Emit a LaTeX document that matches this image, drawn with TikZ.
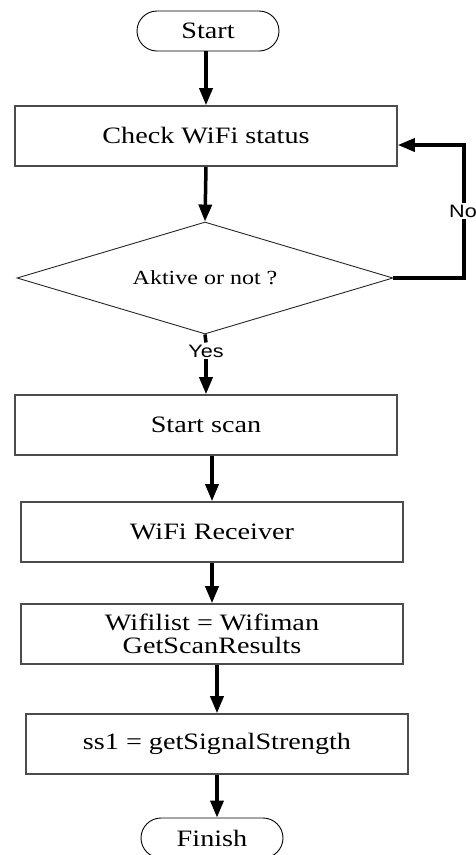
\documentclass[tikz,border=0pt]{standalone}
\usepackage{fontspec}
\setmainfont[FakeStretch=1.2]{Liberation Serif}
\newfontfamily\labelfont[FakeStretch=1.2]{Liberation Sans}
\usetikzlibrary{shapes.geometric,arrows.meta}

\tikzset{
  terminal/.style={draw=black, line width=0.9pt, rounded corners=20pt,
    minimum width=142pt, minimum height=40pt, inner sep=0pt,
    font=\fontsize{23.5}{23}\selectfont},
  process/.style={draw=black!70, line width=1.6pt, minimum width=382pt,
    minimum height=60pt, inner sep=0pt, align=center,
    font=\fontsize{23.5}{23}\selectfont},
  decision/.style={draw=black!85, line width=0.9pt, diamond, shape aspect=3.36,
    minimum width=376pt, minimum height=112pt, inner sep=0pt,
    font=\fontsize{20}{21}\selectfont},
  flow/.style={line width=3.5pt, -{Triangle[width=13pt,length=17pt]}},
  plainflow/.style={line width=3.5pt},
  branch/.style={font=\labelfont\fontsize{18}{18}\selectfont, inner sep=2pt, fill=white}
}

\begin{document}
\begin{tikzpicture}[x=1pt, y=-1pt]
  \useasboundingbox (0,0) rectangle (475,855);

  % flowchart steps
  \node[terminal] (start)  at (208,31)  {Start};
  \node[process]  (check)  at (206,136) {Check WiFi status};
  \node[decision] (active) at (205,278) {Aktive or not ?};
  \node[branch]   (yes)    at (206,351) {Yes};
  \node[process]  (scan)   at (206,425) {Start scan};
  \node[process]  (recv)   at (212,532) {WiFi Receiver};
  \node[process]  (list)   at (212,634) {Wifilist = Wifiman\\GetScanResults};
  \node[process]  (signal) at (217,744) {ss1 = getSignalStrength};
  \node[terminal] (finish) at (212,838) {Finish};

  % return path for an inactive adapter
  \coordinate (loopbot) at (464,278);
  \coordinate (looptop) at (464,145);

  % connectors
  \draw[flow] (start.south -| check.north) -- (check.north);
  \draw[flow] (check.south) -- (active.north);
  \draw[plainflow] (active.south) -- (yes.north);
  \draw[flow] (yes.south) -- (scan.north);
  \draw[flow] (scan.south -| recv.north) -- (recv.north);
  \draw[flow] (recv.south) -- (list.north);
  \draw[flow] (list.south -| signal.north) -- (signal.north);
  \draw[flow] (signal.south) -- (signal.south |- finish.north);
  \draw[flow] (active.east) -- (loopbot) -- (looptop) -- (looptop -| check.east);

  \node[branch] (no) at (463,211) {No};
\end{tikzpicture}
\end{document}
